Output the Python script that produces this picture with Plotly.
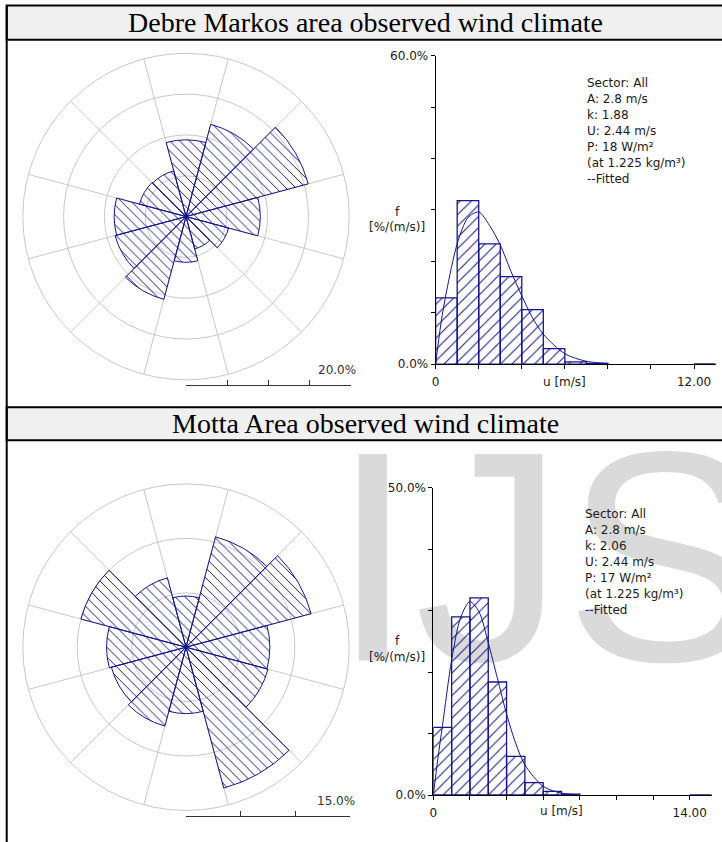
import plotly.graph_objects as go

# ---------------- data ----------------
SECTORS = [0, 30, 60, 90, 120, 150, 180, 210, 240, 270, 300, 330]
ROSE1_FREQ = [9.4, 11.7, 15.5, 9.1, 5.4, 4.1, 5.6, 10.5, 9.0, 8.8, 5.9, 5.8]
ROSE2_FREQ = [4.7, 10.5, 11.9, 7.7, 7.8, 13.4, 6.1, 7.5, 7.1, 7.3, 10.0, 6.6]
ROSE1_SCALE = 20.0
ROSE2_SCALE = 15.0

SPEED_BINS = [0.5, 1.5, 2.5, 3.5, 4.5, 5.5, 6.5, 7.5]
HIST1_FREQ = [12.9, 31.8, 23.4, 17.0, 10.6, 3.0, 0.45, 0.15]
HIST2_FREQ = [11.0, 29.0, 32.1, 18.4, 6.3, 2.0, 0.6, 0.15]

FIT_U = [0, 0.25, 0.5, 1, 1.5, 2, 2.5, 3, 3.5, 4, 4.5, 5, 6, 7, 8]
FIT1 = [0, 8, 14, 23.4, 28.5, 29.6, 27.0, 23.2, 18.0, 13.3, 9.0, 5.8, 2.0, 0.55, 0.13]
FIT2 = [0, 6, 11.3, 22, 29, 31.5, 29.8, 24.8, 19, 13.2, 8.4, 4.9, 1.4, 0.3, 0.05]

HIST1_YMAX, HIST1_XMAXTICK, HIST1_XEND = 60, 12, 13
HIST2_YMAX, HIST2_XMAXTICK, HIST2_XEND = 50, 14, 15.2

TITLES = ["Debre Markos area observed wind climate", "Motta Area observed wind climate"]
STATS1 = ["Sector: All", "A: 2.8 m/s", "k: 1.88", "U: 2.44 m/s", "P: 18 W/m²", "(at 1.225 kg/m³)"]
STATS2 = ["Sector: All", "A: 2.8 m/s", "k: 2.06", "U: 2.44 m/s", "P: 17 W/m²", "(at 1.225 kg/m³)"]

# ---------------- styling / layout constants ----------------
W, H = 722, 842
# small correction for how the page is photographed
SX, OX = 0.99, 4.3
SY, OY = 0.982, 7.4
NAVY = "#16168a"
GRID = "#c8c8c8"
TXT = "#1a1a1a"
SANS = "DejaVu Sans"


def px(x):
    return ((x - OX) / SX) / W


def py(y):
    return 1 - ((y - OY) / SY) / H


fig = go.Figure()

# watermark (background subplot x/y)
fig.add_trace(go.Scatter(x=[px(330)], y=[py(585)], mode="text", text=["IJS"],
                         textposition="middle right",
                         textfont=dict(family="Liberation Sans", size=300, color="#dadada"),
                         xaxis="x", yaxis="y", hoverinfo="skip", showlegend=False))

hatch_rose = dict(shape="\\", fgcolor=NAVY, bgcolor="rgba(0,0,0,0)", size=7, solidity=0.14, fillmode="replace")
hatch_hist = dict(shape="/", fgcolor=NAVY, bgcolor="rgba(0,0,0,0)", size=8, solidity=0.13, fillmode="replace")

for sub, freq in (("polar", ROSE1_FREQ), ("polar2", ROSE2_FREQ)):
    fig.add_trace(go.Barpolar(r=freq, theta=SECTORS, width=[30] * len(SECTORS), subplot=sub,
                              marker=dict(color="rgba(0,0,0,0)", line=dict(color=NAVY, width=1),
                                          pattern=hatch_rose),
                              hoverinfo="skip", showlegend=False))

for xa, ya, freq, fit in (("x2", "y2", HIST1_FREQ, FIT1), ("x3", "y3", HIST2_FREQ, FIT2)):
    fig.add_trace(go.Bar(x=SPEED_BINS, y=freq, width=1, xaxis=xa, yaxis=ya,
                         marker=dict(color="rgba(0,0,0,0)", line=dict(color=NAVY, width=1.3),
                                     pattern=hatch_hist),
                         hoverinfo="skip", showlegend=False))
    fig.add_trace(go.Scatter(x=FIT_U, y=fit, mode="lines", xaxis=xa, yaxis=ya,
                             line=dict(color=NAVY, width=1, shape="spline", smoothing=0.8),
                             hoverinfo="skip", showlegend=False))

# scale bar subplots
for xa, ya in (("x4", "y4"), ("x5", "y5")):
    fig.add_trace(go.Scatter(x=[], y=[], xaxis=xa, yaxis=ya, showlegend=False))

SPOKES = [s + 15 for s in SECTORS]


def polar_cfg(cx, cy, r, rmax):
    step = 5
    return dict(
        domain=dict(x=[px(cx - r), px(cx + r)], y=[py(cy + r), py(cy - r)]),
        bgcolor="rgba(0,0,0,0)",
        angularaxis=dict(direction="clockwise", rotation=90, tickmode="array", tickvals=SPOKES,
                         showticklabels=False, ticks="", showgrid=True, gridcolor=GRID, gridwidth=1,
                         showline=True, linecolor=GRID, linewidth=1),
        radialaxis=dict(range=[0, rmax], tickmode="array",
                        tickvals=[v for v in range(step, int(rmax), step)],
                        showticklabels=False, ticks="", showline=False, showgrid=True,
                        gridcolor=GRID, gridwidth=1),
    )


def hist_axes(x0, x1, y_top, y_bot, xend, xmaxtick, ymax):
    xt = list(range(0, xmaxtick + 1, 2))
    yt = list(range(0, ymax + 1, 10))
    xa = dict(domain=[px(x0), px(x1)], range=[0, xend], tickmode="array", tickvals=xt,
              ticktext=["0"] + [""] * (len(xt) - 2) + [f"{xmaxtick:.2f}"],
              ticks="outside", ticklen=4, tickcolor="#000", showline=True, linecolor="#000",
              linewidth=1, showgrid=False, zeroline=False, ticklabelstandoff=3,
              tickfont=dict(family=SANS, size=12, color=TXT))
    ya = dict(domain=[py(y_bot), py(y_top)], range=[0, ymax], tickmode="array", tickvals=yt,
              ticktext=["0.0%"] + [""] * (len(yt) - 2) + [f"{ymax:.1f}%"],
              ticks="outside", ticklen=4, tickcolor="#000", showline=True, linecolor="#000",
              linewidth=1, showgrid=False, zeroline=False,
              tickfont=dict(family=SANS, size=12, color=TXT))
    return xa, ya


xa2, ya2 = hist_axes(434, 712.7, 56, 364, HIST1_XEND, HIST1_XMAXTICK, HIST1_YMAX)
xa3, ya3 = hist_axes(431.7, 708.8, 487.7, 794.3, HIST2_XEND, HIST2_XMAXTICK, HIST2_YMAX)
xa2["anchor"], ya2["anchor"] = "y2", "x2"
xa3["anchor"], ya3["anchor"] = "y3", "x3"


def scale_axes(x0, x1, ybar, rmax, n):
    xa = dict(domain=[px(x0), px(x1)], range=[0, rmax], tickmode="array",
              tickvals=[rmax * i / n for i in range(n + 1)], showticklabels=False,
              ticks="inside", ticklen=5, tickcolor="#333", showline=True, linecolor="#333",
              linewidth=1, showgrid=False, zeroline=False)
    ya = dict(domain=[py(ybar), py(ybar - 6)], visible=False, range=[0, 1])
    return xa, ya


xa4, ya4 = scale_axes(185.5, 350, 385, ROSE1_SCALE, 4)
xa5, ya5 = scale_axes(185.5, 348.5, 815, ROSE2_SCALE, 3)
xa4["anchor"], ya4["anchor"] = "y4", "x4"
xa5["anchor"], ya5["anchor"] = "y5", "x5"

shapes = []
# title bars
for top, bot in ((6, 40), (407, 440)):
    shapes.append(dict(type="rect", xref="paper", yref="paper", x0=px(7), x1=px(W + 12),
                       y0=py(bot), y1=py(top), fillcolor="#f0f0f0",
                       line=dict(color="#000", width=2), layer="below"))
# left frame line
shapes.append(dict(type="line", xref="paper", yref="paper", x0=px(7), x1=px(7), y0=py(H + 12), y1=py(6),
                   line=dict(color="#000", width=2)))
# blue tail segments at end of speed axes
for xr, yr, a, b in (("x2", "y2", HIST1_XMAXTICK, HIST1_XEND), ("x3", "y3", HIST2_XMAXTICK, HIST2_XEND)):
    shapes.append(dict(type="line", xref=xr, yref=yr, x0=a, x1=b, y0=0, y1=0,
                       line=dict(color=NAVY, width=1.5), layer="above"))

ann = []
for title, yc in zip(TITLES, (23, 423.5)):
    ann.append(dict(text=title, x=px(364.5), y=py(yc), xref="paper", yref="paper", showarrow=False,
                    xanchor="center", yanchor="middle",
                    font=dict(family="Liberation Serif", size=28, color="#000")))


def stats(lines, x0, y0, step):
    out = []
    for i, t in enumerate(lines + ["<span style='color:%s'>--</span>Fitted" % NAVY]):
        out.append(dict(text=t, x=px(x0), y=py(y0 + i * step), xref="paper", yref="paper",
                        showarrow=False, xanchor="left", yanchor="middle",
                        font=dict(family=SANS, size=12, color=TXT)))
    return out


ann += stats(STATS1, 582.5, 82.8, 16.1)
ann += stats(STATS2, 581, 513.2, 16.1)

for xr, mid, ylab, fy in (("x2", HIST1_XMAXTICK / 2, 381.7, 212), ("x3", HIST2_XMAXTICK / 2, 810, 641)):
    ann.append(dict(text="u [m/s]", x=mid, y=py(ylab), xref=xr, yref="paper", showarrow=False,
                    xanchor="center", yanchor="middle", font=dict(family=SANS, size=12, color=TXT)))
    ann.append(dict(text="f", x=px(396), y=py(fy), xref="paper", yref="paper", showarrow=False,
                    xanchor="center", yanchor="middle", font=dict(family=SANS, size=12, color=TXT)))
    ann.append(dict(text="[%/(m/s)]", x=px(396), y=py(fy + 15.5), xref="paper", yref="paper",
                    showarrow=False, xanchor="center", yanchor="middle",
                    font=dict(family=SANS, size=12, color=TXT)))

for val, xr, yc in ((ROSE1_SCALE, 357, 370), (ROSE2_SCALE, 355.5, 800)):
    ann.append(dict(text=f"{val:.1f}%", x=px(xr), y=py(yc), xref="paper", yref="paper",
                    showarrow=False, xanchor="right", yanchor="middle",
                    font=dict(family=SANS, size=12, color="#333")))

fig.update_layout(
    width=W, height=H, margin=dict(l=0, r=0, t=0, b=0),
    paper_bgcolor="white", plot_bgcolor="rgba(0,0,0,0)",
    showlegend=False, hovermode=False,
    xaxis=dict(domain=[0, 1], range=[0, 1], visible=False, fixedrange=True),
    yaxis=dict(domain=[0, 1], range=[0, 1], visible=False, fixedrange=True),
    xaxis2=xa2, yaxis2=ya2, xaxis3=xa3, yaxis3=ya3,
    xaxis4=xa4, yaxis4=ya4, xaxis5=xa5, yaxis5=ya5,
    polar=polar_cfg(185.5, 216.7, 163, ROSE1_SCALE),
    polar2=polar_cfg(185.5, 646.7, 163, ROSE2_SCALE),
    shapes=shapes, annotations=ann,
)

fig.write_html("out.html", config={"displayModeBar": False},
               post_script="document.body.style.margin='0';document.body.style.overflow='hidden';")
